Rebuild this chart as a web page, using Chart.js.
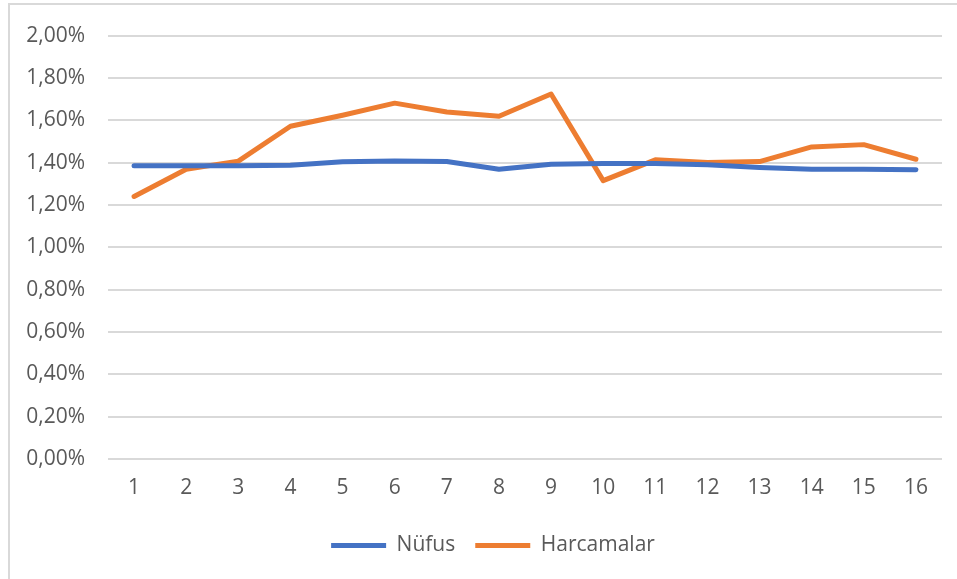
<!DOCTYPE html>
<html>
<head>
<meta charset="utf-8">
<script src="https://cdn.jsdelivr.net/npm/chart.js@4"></script>
<style>
  body { margin: 0; background: #fff; }
  #wrap { position: absolute; left: 0; top: 0; width: 957px; height: 579px; }
  #frame { position: absolute; left: 8px; top: 3px; right: 0; bottom: 0; border-left: 2px solid #d9d9d9; border-top: 2px solid #d9d9d9; }
  canvas { position: absolute; left: 0; top: 0; }
</style>
</head>
<body>
<div id="wrap">
  <div id="frame"></div>
  <canvas id="grafico" width="957" height="579"></canvas>
</div>
<script>
const kategoriler = ['1','2','3','4','5','6','7','8','9','10','11','12','13','14','15','16'];
const nufus = [1.385, 1.385, 1.385, 1.388, 1.404, 1.408, 1.405, 1.369, 1.392, 1.396, 1.396, 1.390, 1.377, 1.369, 1.369, 1.366];
const harcamalar = [1.240, 1.369, 1.407, 1.572, 1.624, 1.681, 1.639, 1.619, 1.724, 1.315, 1.413, 1.400, 1.405, 1.474, 1.485, 1.416];
const yTickleri = ['0,00%','0,20%','0,40%','0,60%','0,80%','1,00%','1,20%','1,40%','1,60%','1,80%','2,00%'];

const YAZI = "'Open Sans', 'Liberation Sans', sans-serif";

const GRAFIK = document.getElementById('grafico');

// legend'i biraz saga kaydir (orijinalde grafik alaninin ortasinda)
const legendKaydir = {
  id: 'legendKaydir',
  afterLayout: function (chart) {
    chart.legend.left += 22;
    chart.legend.right += 22;
  }
};

let grafik = new Chart(GRAFIK, {
  type: 'line',
  data: {
    labels: kategoriler,
    datasets: [{
      label: 'Nüfus',
      data: nufus,
      borderColor: '#4472C4',
      backgroundColor: '#4472C4',
      borderWidth: 5,
      pointRadius: 0,
      borderCapStyle: 'round',
      borderJoinStyle: 'round',
      tension: 0
    }, {
      label: 'Harcamalar',
      data: harcamalar,
      borderColor: '#ED7D31',
      backgroundColor: '#ED7D31',
      borderWidth: 5,
      pointRadius: 0,
      borderCapStyle: 'round',
      borderJoinStyle: 'round',
      tension: 0
    }]
  },
  options: {
    responsive: false,
    animation: false,
    layout: { padding: { top: 22, right: 15, left: 0, bottom: 13 } },
    plugins: {
      legend: {
        position: 'bottom',
        labels: {
          color: '#595959',
          font: { family: YAZI, size: 21 },
          boxWidth: 55,
          boxHeight: 5,
          padding: 20,
          generateLabels: function (chart) {
            return chart.data.datasets.map(function (ds, i) {
              return {
                text: ds.label,
                fillStyle: ds.borderColor,
                strokeStyle: ds.borderColor,
                lineWidth: 0,
                datasetIndex: i,
                fontColor: '#595959'
              };
            });
          }
        }
      },
      tooltip: { enabled: false }
    },
    scales: {
      x: {
        offset: true,
        grid: { display: false },
        border: { display: false },
        ticks: { color: '#595959', font: { family: YAZI, size: 21 }, padding: 8 },
        afterFit: function (s) { s.height = 56; }
      },
      y: {
        min: 0,
        max: 2,
        grid: { color: '#d9d9d9', lineWidth: 2, drawTicks: false },
        border: { display: false },
        ticks: {
          stepSize: 0.2,
          color: '#595959',
          font: { family: YAZI, size: 21 },
          padding: 23,
          callback: function (v, i) { return yTickleri[i]; }
        },
        afterFit: function (s) { s.width = 108; }
      }
    }
  },
  plugins: [legendKaydir]
});
</script>
</body>
</html>
